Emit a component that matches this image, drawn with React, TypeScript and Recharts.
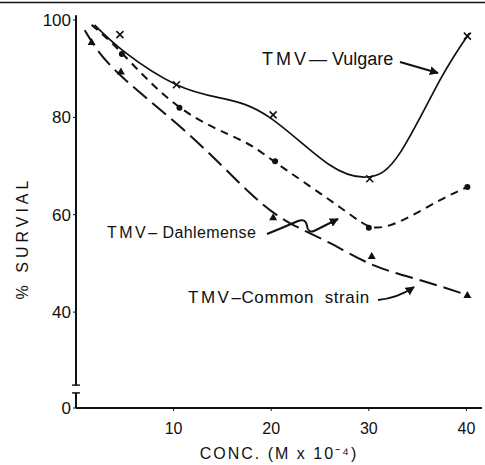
import { ComposedChart, Line, Scatter, XAxis, YAxis, ReferenceLine } from 'recharts';

// tick values
const xTicks = [10, 20, 30, 40];
const yTicks = [20.3, 40, 60, 80, 100]; // bottom tick is the "0" below the axis break

// smooth fitted curves
const vulgareCurve = [
  { x: 1.9, y: 99 }, { x: 5, y: 93.4 }, { x: 10.3, y: 86.7 }, { x: 15, y: 83.9 },
  { x: 19.9, y: 79.9 }, { x: 26, y: 70.2 }, { x: 30.1, y: 67.8 },
  { x: 33.2, y: 72.7 }, { x: 37.3, y: 87.7 }, { x: 40.3, y: 97.3 },
];
const dahlemenseCurve = [
  { x: 1.6, y: 99 }, { x: 4.7, y: 93.2 }, { x: 10.6, y: 82.1 }, { x: 16.8, y: 75.4 },
  { x: 20.4, y: 70.8 }, { x: 27, y: 61.6 }, { x: 30.6, y: 57.4 }, { x: 33.9, y: 59.3 },
  { x: 37.3, y: 63 }, { x: 40.1, y: 65.7 },
];
const commonCurve = [
  { x: 0.9, y: 97.9 }, { x: 4.2, y: 89.3 }, { x: 11.4, y: 76.8 }, { x: 17.8, y: 64.5 },
  { x: 21.9, y: 58.3 }, { x: 26, y: 54.2 }, { x: 30.4, y: 49.7 }, { x: 35.2, y: 46.6 },
  { x: 40.1, y: 43.5 },
];

// measured points
const vulgarePoints = [
  { x: 4.5, y: 97 }, { x: 10.3, y: 86.7 }, { x: 20.2, y: 80.5 }, { x: 30.1, y: 67.4 }, { x: 40.1, y: 96.7 },
];
const dahlemensePoints = [
  { x: 4.7, y: 93 }, { x: 10.6, y: 82 }, { x: 20.4, y: 71 }, { x: 30, y: 57.3 }, { x: 40.1, y: 65.7 },
];
const commonPoints = [
  { x: 1.6, y: 95.5 }, { x: 4.6, y: 89.4 }, { x: 20.2, y: 59.5 }, { x: 30.3, y: 51.5 }, { x: 40.1, y: 43.5 },
];

const ink = '#111';

const Cross = (props: any) => {
  const { cx, cy } = props;
  return (
    <g stroke={ink} strokeWidth={1.6}>
      <line x1={cx - 3.5} y1={cy - 3.5} x2={cx + 3.5} y2={cy + 3.5} />
      <line x1={cx - 3.5} y1={cy + 3.5} x2={cx + 3.5} y2={cy - 3.5} />
    </g>
  );
};

const Dot = (props: any) => <circle cx={props.cx} cy={props.cy} r={3} fill={ink} />;

const Tri = (props: any) => {
  const { cx, cy } = props;
  return <polygon points={`${cx},${cy - 4} ${cx - 4},${cy + 3} ${cx + 4},${cy + 3}`} fill={ink} />;
};

const App = () => {
  return (
    <div style={{ position: 'absolute', left: 0, top: 0, width: 485, height: 465, fontFamily: '"Liberation Sans", Arial, sans-serif', background: '#fff' }}>
      <ComposedChart width={485} height={465} margin={{ top: 20, right: 3, left: 0, bottom: 0 }}>
        <XAxis
          type="number"
          dataKey="x"
          domain={[0, 41.6]}
          ticks={xTicks}
          tickSize={3}
          tickMargin={12}
          height={57}
          allowDataOverflow
          axisLine={{ stroke: ink, strokeWidth: 2 }}
          tickLine={{ stroke: ink }}
          tick={{ fill: ink, fontSize: 16 }}
          label={{ value: 'CONC. (M x 10⁻⁴)', position: 'insideBottom', offset: 6, fill: ink, fontSize: 16, style: { letterSpacing: 2 } }}
        />
        <YAxis
          type="number"
          dataKey="y"
          domain={[20.3, 100]}
          ticks={yTicks}
          width={76}
          tickSize={3}
          tickMargin={2}
          allowDataOverflow
          axisLine={false}
          tickLine={{ stroke: ink }}
          tick={{ fill: ink, fontSize: 17 }}
          tickFormatter={(v: number) => (v < 25 ? '0' : String(v))}
        />
        {/* broken y axis */}
        <ReferenceLine segment={[{ x: 0, y: 25 }, { x: 0, y: 101 }]} stroke={ink} strokeWidth={2} ifOverflow="visible" />
        <ReferenceLine segment={[{ x: 0, y: 20.3 }, { x: 0, y: 23.4 }]} stroke={ink} strokeWidth={2} ifOverflow="visible" />
        <ReferenceLine segment={[{ x: -0.4, y: 25 }, { x: 0.4, y: 25 }]} stroke={ink} strokeWidth={1.5} ifOverflow="visible" />
        <ReferenceLine segment={[{ x: -0.4, y: 23.4 }, { x: 0.4, y: 23.4 }]} stroke={ink} strokeWidth={1.5} ifOverflow="visible" />

        <Line data={vulgareCurve} dataKey="y" type="natural" stroke={ink} strokeWidth={1.7} dot={false} activeDot={false} isAnimationActive={false} />
        <Line data={dahlemenseCurve} dataKey="y" type="natural" stroke={ink} strokeWidth={2} strokeDasharray="8 6" dot={false} activeDot={false} isAnimationActive={false} />
        <Line data={commonCurve} dataKey="y" type="natural" stroke={ink} strokeWidth={2} strokeDasharray="18 7" dot={false} activeDot={false} isAnimationActive={false} />

        <Scatter data={vulgarePoints} dataKey="y" shape={Cross} isAnimationActive={false} />
        <Scatter data={dahlemensePoints} dataKey="y" shape={Dot} isAnimationActive={false} />
        <Scatter data={commonPoints} dataKey="y" shape={Tri} isAnimationActive={false} />
      </ComposedChart>

      {/* annotations */}
      <svg width={485} height={465} style={{ position: 'absolute', left: 0, top: 0, pointerEvents: 'none' }}>
        <defs>
          <marker id="head" viewBox="0 0 10 10" refX="9" refY="5" markerWidth="9" markerHeight="9" orient="auto" markerUnits="userSpaceOnUse">
            <path d="M0,0 L10,5 L0,10 z" fill={ink} />
          </marker>
        </defs>
        <line x1={0} y1={2.5} x2={485} y2={2.5} stroke={ink} strokeWidth={1.5} />
        <text x={22} y={238} transform="rotate(-90 22 238)" textAnchor="middle" dominantBaseline="central" fontSize={16} fill={ink} style={{ letterSpacing: 4 }}>
          % SURVIAL
        </text>

        <text x={262} y={65} fontSize={18} fill={ink}>
          <tspan style={{ letterSpacing: 3 }}>TMV</tspan>— Vulgare
        </text>
        <line x1={400} y1={62} x2={438} y2={73} stroke={ink} strokeWidth={2} markerEnd="url(#head)" />

        <text x={107} y={238} fontSize={16} fill={ink} style={{ letterSpacing: 0.4 }}>
          <tspan style={{ letterSpacing: 2.5 }}>TMV</tspan>– Dahlemense
        </text>
        <path d="M267,234 Q282,228 298,221 Q306,218 307,226 Q308,233 314,231 L338,219" fill="none" stroke={ink} strokeWidth={2} markerEnd="url(#head)" />

        <text x={188} y={303} fontSize={17} fill={ink} style={{ letterSpacing: 0.6 }}>
          <tspan style={{ letterSpacing: 2.5 }}>TMV</tspan>–Common{'\u00a0\u00a0'}strain
        </text>
        <path d="M378,300 Q398,298 414,287" fill="none" stroke={ink} strokeWidth={2} markerEnd="url(#head)" />
      </svg>
    </div>
  );
};

export default App;
